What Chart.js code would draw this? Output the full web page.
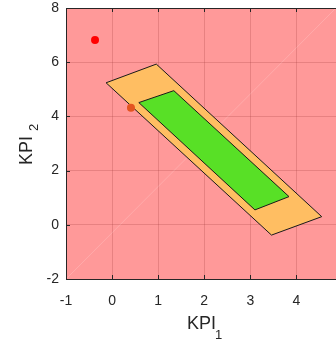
<!DOCTYPE html>
<html>
<head>
<meta charset="utf-8">
<script src="https://cdn.jsdelivr.net/npm/chart.js@4"></script>
<style>
  html, body { margin: 0; padding: 0; background: #fff; }
  #wrap { width: 336px; height: 341px; }
</style>
</head>
<body>
<div id="wrap"><canvas id="grafico" width="336" height="341"></canvas></div>
<script>
// data
const xTicks = [-1, 0, 1, 2, 3, 4];
const yTicks = [-2, 0, 2, 4, 6, 8];

const outerX = [-0.13, 0.96, 4.55, 3.46, -0.13];
const outerY = [5.24, 5.93, 0.30, -0.38, 5.24];

const innerX = [0.58, 1.34, 3.84, 3.10, 0.58];
const innerY = [4.51, 4.95, 1.04, 0.55, 4.51];

const diagX = [-1, 4.86];
const diagY = [-2, 8];

const redPoint = [-0.37, 6.82];
const orangePoint = [0.41, 4.32];

const toPts = (xs, ys) => xs.map((x, i) => ({ x: x, y: ys[i] }));

const axisColor = "#262626";

const extras = {
  id: "extras",
  beforeDraw(chart) {
    const { ctx, chartArea: a } = chart;
    ctx.save();
    ctx.fillStyle = "rgb(255,153,153)";
    ctx.fillRect(a.left, a.top, a.right - a.left, a.bottom - a.top);
    ctx.restore();
  },
  afterDraw(chart) {
    const { ctx, chartArea: a, scales } = chart;
    ctx.save();
    // top border
    ctx.strokeStyle = axisColor;
    ctx.lineWidth = 1;
    ctx.beginPath();
    ctx.moveTo(a.left, a.top + 0.5);
    ctx.lineTo(a.right, a.top + 0.5);
    ctx.stroke();
    // inward ticks
    ctx.beginPath();
    xTicks.forEach(v => {
      const px = Math.round(scales.x.getPixelForValue(v)) + 0.5;
      ctx.moveTo(px, a.bottom); ctx.lineTo(px, a.bottom - 4);
      ctx.moveTo(px, a.top); ctx.lineTo(px, a.top + 4);
    });
    yTicks.forEach(v => {
      const py = Math.round(scales.y.getPixelForValue(v)) + 0.5;
      ctx.moveTo(a.left, py); ctx.lineTo(a.left + 4, py);
    });
    ctx.stroke();

    // axis titles
    ctx.fillStyle = axisColor;
    ctx.textBaseline = "alphabetic";
    ctx.font = "18px 'Liberation Sans', Arial, sans-serif";
    ctx.textAlign = "left";
    ctx.fillText("KPI", 187, 329);
    ctx.font = "13px 'Liberation Sans', Arial, sans-serif";
    ctx.fillText("1", 215, 339);

    ctx.translate(32, 165);
    ctx.rotate(-Math.PI / 2);
    ctx.font = "18px 'Liberation Sans', Arial, sans-serif";
    ctx.fillText("KPI", 0, 0);
    ctx.font = "13px 'Liberation Sans', Arial, sans-serif";
    ctx.fillText("2", 34, 6);
    ctx.restore();
  }
};

const ctx = document.getElementById("grafico").getContext("2d");
new Chart(ctx, {
  type: "scatter",
  data: {
    datasets: [
      {
        order: 4,
        data: toPts(diagX, diagY),
        showLine: true,
        borderColor: "rgba(255,255,255,0.18)",
        borderWidth: 1,
        pointRadius: 0,
        fill: false
      },
      {
        order: 3,
        data: toPts(outerX, outerY),
        showLine: true,
        borderColor: "#1a1a1a",
        borderWidth: 1,
        backgroundColor: "rgb(255,190,98)",
        pointRadius: 0,
        tension: 0,
        fill: "shape"
      },
      {
        order: 2,
        data: toPts(innerX, innerY),
        showLine: true,
        borderColor: "#1a1a1a",
        borderWidth: 1,
        backgroundColor: "rgb(88,224,38)",
        pointRadius: 0,
        tension: 0,
        fill: "shape"
      },
      {
        order: 1,
        data: [{ x: redPoint[0], y: redPoint[1] }],
        pointRadius: 4,
        pointBackgroundColor: "#ff0000",
        pointBorderWidth: 0
      },
      {
        order: 0,
        data: [{ x: orangePoint[0], y: orangePoint[1] }],
        pointRadius: 4,
        pointBackgroundColor: "rgb(228,84,32)",
        pointBorderWidth: 0
      }
    ]
  },
  options: {
    responsive: false,
    animation: false,
    layout: { autoPadding: false, padding: { top: 8, right: 0, left: 0, bottom: 0 } },
    plugins: { legend: { display: false }, tooltip: { enabled: false } },
    scales: {
      x: {
        type: "linear",
        min: -1,
        max: 4.86,
        afterBuildTicks: s => { s.ticks = xTicks.map(v => ({ value: v })); },
        afterFit: s => { s.height = 62; s.paddingLeft = 0; s.paddingRight = 0; },
        grid: { color: "rgba(160,60,60,0.25)", drawTicks: false },
        border: { display: true, color: axisColor, width: 1 },
        ticks: {
          padding: 14,
          color: axisColor,
          font: { family: "'Liberation Sans', Arial, sans-serif", size: 14 }
        }
      },
      y: {
        type: "linear",
        min: -2,
        max: 8,
        afterBuildTicks: s => { s.ticks = yTicks.map(v => ({ value: v })); },
        afterFit: s => { s.width = 66; s.paddingTop = 0; s.paddingBottom = 0; },
        grid: { color: "rgba(160,60,60,0.25)", drawTicks: false },
        border: { display: true, color: axisColor, width: 1 },
        ticks: {
          padding: 7,
          color: axisColor,
          font: { family: "'Liberation Sans', Arial, sans-serif", size: 14 }
        }
      }
    }
  },
  plugins: [extras]
});
</script>
</body>
</html>
